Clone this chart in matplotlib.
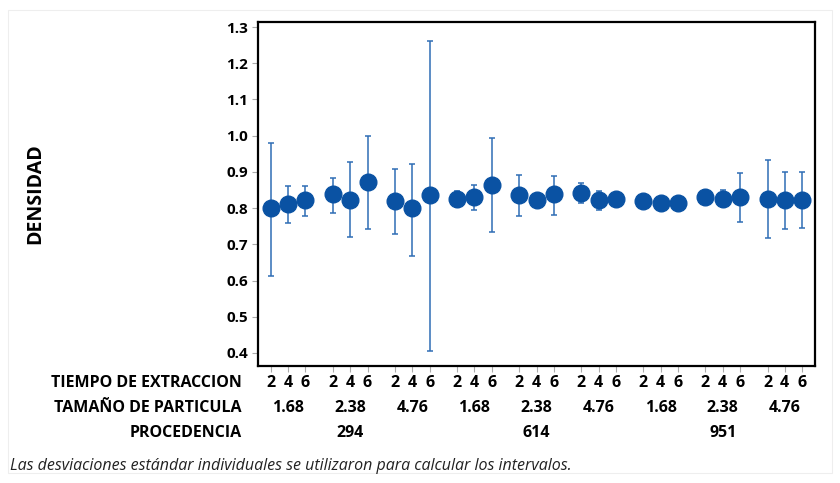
import matplotlib
matplotlib.use("Agg")
import matplotlib.pyplot as plt
import matplotlib.transforms as mtransforms
from matplotlib.patches import Rectangle

plt.rcParams['font.family'] = ['Open Sans', 'DejaVu Sans']

procedencia = ['294', '614', '951']
tamano = ['1.68', '2.38', '4.76']
tiempo = ['2', '4', '6']

# means and interval ends, order: procedencia > tamano > tiempo
media = [0.800, 0.812, 0.823, 0.839, 0.823, 0.872, 0.819, 0.800, 0.835,
         0.826, 0.830, 0.864, 0.835, 0.823, 0.839, 0.843, 0.823, 0.826,
         0.819, 0.815, 0.815, 0.832, 0.826, 0.832, 0.826, 0.823, 0.823]
inferior = [0.612, 0.758, 0.778, 0.786, 0.720, 0.741, 0.728, 0.667, 0.406,
            0.802, 0.795, 0.733, 0.778, 0.818, 0.781, 0.815, 0.794, 0.822,
            0.815, 0.811, 0.811, 0.814, 0.802, 0.762, 0.717, 0.741, 0.745]
superior = [0.980, 0.860, 0.860, 0.884, 0.926, 1.000, 0.909, 0.923, 1.261,
            0.847, 0.864, 0.995, 0.892, 0.828, 0.888, 0.869, 0.847, 0.830,
            0.823, 0.819, 0.819, 0.850, 0.851, 0.897, 0.933, 0.900, 0.900]

gap = 3.6
xs = []
for g in range(len(procedencia) * len(tamano)):
    for t in range(len(tiempo)):
        xs.append(g * gap + t)

fig = plt.figure(figsize=(8.4, 4.83), dpi=100)
ax = fig.add_axes([258 / 840, 1 - 366 / 483, (815 - 258) / 840, (366 - 22) / 483])

blue = '#0a52a3'
bar_blue = '#2f6db5'
err_lo = [m - lo for m, lo in zip(media, inferior)]
err_hi = [hi - m for m, hi in zip(media, superior)]
ax.errorbar(xs, media, yerr=[err_lo, err_hi], fmt='none', ecolor=bar_blue,
            elinewidth=1.1, capsize=2.5, capthick=1.1, zorder=2)
ax.plot(xs, media, 'o', color=blue, markersize=12, zorder=3)

ax.set_ylim(0.364, 1.314)
ax.set_xlim(-0.754, xs[-1] + 0.754)
ax.set_yticks([0.4, 0.5, 0.6, 0.7, 0.8, 0.9, 1.0, 1.1, 1.2, 1.3])
ax.set_yticklabels(['0.4', '0.5', '0.6', '0.7', '0.8', '0.9', '1.0', '1.1', '1.2', '1.3'])
ax.set_xticks(xs)
ax.set_xticklabels([])
ax.tick_params(axis='both', direction='out', length=4, width=0.8, color='#aaaaaa')
ax.tick_params(axis='y', labelsize=11, pad=3)
for lab in ax.get_yticklabels():
    lab.set_fontweight('bold')
for s in ax.spines.values():
    s.set_linewidth(1.6)
    s.set_color('black')

ax.set_ylabel('DENSIDAD', fontsize=14, fontweight='bold', labelpad=0)
ax.yaxis.set_label_coords(-(258 - 45) / 557, 0.5)

tr = mtransforms.blended_transform_factory(ax.transData, fig.transFigure)
lab_kw = dict(fontsize=11.5, fontweight='bold', va='center')
row_y = [1 - 383 / 483, 1 - 408 / 483, 1 - 433 / 483]

for x, i in zip(xs, range(len(xs))):
    ax.text(x, row_y[0], tiempo[i % 3], transform=tr, ha='center', **lab_kw)
for g in range(9):
    ax.text(g * gap + 1, row_y[1], tamano[g % 3], transform=tr, ha='center', **lab_kw)
for p in range(3):
    ax.text((3 * p + 1) * gap + 1, row_y[2], procedencia[p], transform=tr, ha='center', **lab_kw)

fig.text(242 / 840, row_y[0], 'TIEMPO DE EXTRACCION', ha='right', **lab_kw)
fig.text(242 / 840, row_y[1], 'TAMAÑO DE PARTICULA', ha='right', **lab_kw)
fig.text(242 / 840, row_y[2], 'PROCEDENCIA', ha='right', **lab_kw)

fig.text(10 / 840, 1 - 466 / 483,
         'Las desviaciones estándar individuales se utilizaron para calcular los intervalos.',
         fontsize=11.5, style='italic', va='center', color='#222222')

fig.patches.append(Rectangle((8 / 840, 10 / 483), 824 / 840, 463 / 483,
                             transform=fig.transFigure, fill=False,
                             edgecolor='#eeeeee', linewidth=0.8))

fig.savefig('out.png', dpi=100)
